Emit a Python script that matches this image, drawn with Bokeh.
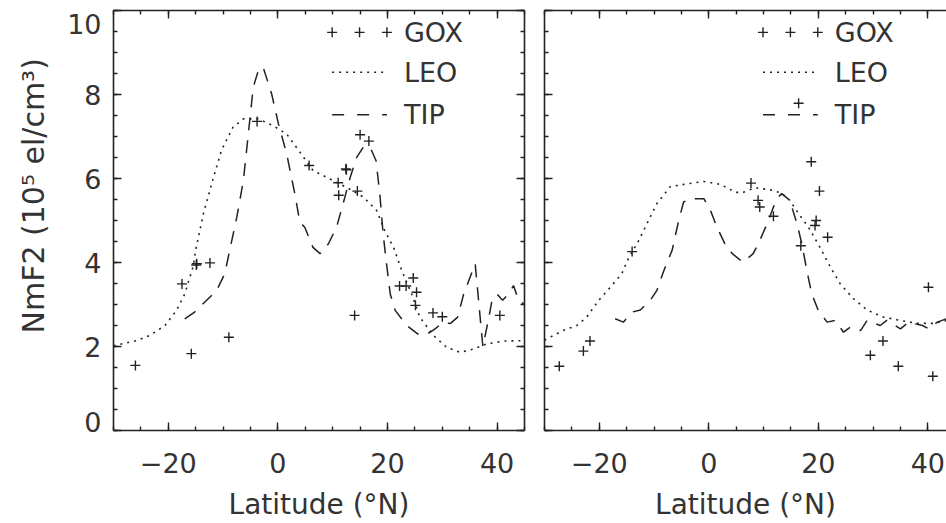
from bokeh.plotting import figure
from bokeh.layouts import row
from bokeh.models import (LinearAxis, SingleIntervalTicker, FixedTicker, Range1d,
                          CustomJSTickFormatter, Title)
from bokeh.embed import file_html
from bokeh.resources import INLINE
from bokeh.core.properties import value

# ---------------- data ----------------
# Left panel
left_gox_lat = [-26.0, -17.5, -15.8, -14.9, -14.8, -12.4, -8.95, -3.8, 5.7, 11.0, 11.1,
                12.4, 12.5, 14.0, 14.5, 15.0, 16.6, 22.2, 23.4, 24.7, 25.1, 25.3, 28.3, 30.0, 40.5]
left_gox_val = [1.55, 3.49, 1.83, 3.94, 3.97, 3.99, 2.22, 7.36, 6.31, 5.90, 5.60,
                6.23, 6.21, 2.74, 5.70, 7.04, 6.89, 3.44, 3.44, 3.63, 2.98, 3.29, 2.80, 2.71, 2.74]

left_leo_lat = [-30.0, -25.8, -23.4, -20.6, -18.5, -17.0, -15.5, -14.9, -13.6, -12.1, -10.3,
                -8.2, -6.3, -3.6, -0.9, 1.6, 4.0, 6.4, 9.5, 12.5, 15.6, 18.0, 19.5, 21.1,
                22.6, 24.4, 25.9, 28.4, 30.8, 33.2, 35.7, 38.1, 41.2, 45.0]
left_leo_val = [2.02, 2.14, 2.26, 2.50, 2.86, 3.25, 3.89, 4.36, 5.16, 5.87, 6.67,
                7.22, 7.42, 7.42, 7.26, 7.06, 6.63, 6.19, 5.99, 5.79, 5.56, 5.24, 4.76, 4.36,
                3.81, 3.25, 2.70, 2.26, 1.98, 1.86, 1.94, 2.06, 2.13, 2.14]

left_tip_lat = [-17.0, -15.2, -13.0, -11.2, -9.7, -8.8, -7.5, -6.3, -5.4, -4.5, -3.4, -2.6,
                -1.15, 0.1, 1.6, 3.1, 4.0, 4.9, 6.4, 7.7, 9.2, 10.7, 11.9, 13.2, 14.4, 15.6,
                16.8, 17.9, 18.6, 19.2, 19.9, 20.5, 21.4, 23.5, 25.5, 27.0, 28.5, 30.0, 31.5,
                32.8, 33.9, 36.0, 37.4, 38.4, 39.0, 40.0, 41.0, 42.1, 43.0, 43.9, 45.0]
left_tip_val = [2.66, 2.82, 3.10, 3.33, 3.73, 4.29, 5.08, 5.95, 7.06, 8.17, 8.65, 8.61,
                8.02, 7.30, 6.59, 5.63, 4.96, 4.84, 4.36, 4.21, 4.44, 4.84, 5.40, 6.03, 6.51, 6.75,
                6.75, 6.43, 5.63, 4.68, 3.89, 3.25, 2.86, 2.50, 2.30, 2.28, 2.40, 2.56, 2.55,
                2.70, 3.25, 3.97, 2.00, 2.62, 3.05, 3.25, 3.10, 3.25, 3.45, 3.10, 3.00]

# Right panel
right_gox_lat = [-27.3, -22.9, -21.7, -14.0, 7.7, 9.0, 9.3, 11.8, 16.4, 16.8, 18.7,
                 19.4, 19.6, 20.2, 21.7, 29.5, 31.8, 34.6, 40.1, 40.9]
right_gox_val = [1.53, 1.89, 2.13, 4.26, 5.89, 5.48, 5.32, 5.10, 7.79, 4.40, 6.40,
                 4.88, 5.00, 5.70, 4.60, 1.79, 2.13, 1.53, 3.41, 1.29]

right_leo_lat = [-30.0, -29.0, -26.6, -24.1, -22.3, -20.1, -18.0, -15.9, -14.7, -12.8, -11.3,
                 -9.5, -7.0, -4.0, -0.9, 2.1, 4.9, 6.3, 8.4, 11.2, 13.3, 14.8, 16.4, 18.2,
                 20.3, 22.2, 24.0, 26.4, 28.9, 31.9, 35.0, 38.0, 41.1, 43.4]
right_leo_val = [2.15, 2.22, 2.38, 2.50, 2.70, 3.10, 3.41, 3.73, 4.09, 4.52, 4.92,
                 5.40, 5.81, 5.87, 5.93, 5.86, 5.67, 5.67, 5.78, 5.73, 5.65, 5.48, 5.16, 4.84,
                 4.36, 3.89, 3.49, 3.14, 2.87, 2.70, 2.62, 2.55, 2.55, 2.62]

right_tip_lat = [-17.1, -15.6, -14.0, -12.5, -10.7, -9.5, -8.2, -6.7, -5.5, -4.6, -3.4, -1.8,
                 -0.9, 0.3, 1.5, 3.1, 4.3, 5.8, 6.3, 8.1, 9.3, 10.9, 11.8, 12.7, 13.3, 14.8,
                 16.1, 17.0, 17.9, 18.8, 20.0, 21.6, 23.1, 24.6, 25.8, 27.7, 28.9, 31.3, 32.5,
                 35.0, 36.5, 39.0, 40.2, 41.7, 43.4]
right_tip_val = [2.66, 2.58, 2.82, 2.87, 3.10, 3.33, 3.81, 4.29, 5.00, 5.44, 5.52, 5.52,
                 5.52, 5.24, 4.84, 4.40, 4.21, 4.05, 4.01, 4.21, 4.52, 5.00, 5.32, 5.56, 5.64, 5.48,
                 4.92, 4.44, 3.81, 3.25, 2.86, 2.58, 2.62, 2.34, 2.46, 2.38, 2.62, 2.50, 2.62,
                 2.42, 2.58, 2.50, 2.42, 2.58, 2.66]

series_names = ["GOX", "LEO", "TIP"]
x_tick_labels = {-20: "\u221220", 0: "0", 20: "20", 40: "40"}
y_tick_vals = [0, 2, 4, 6, 8, 10]
y_tick_text = ["0", "2", "4", "6", "8", "10"]
y_label = "NmF2 (10\u2075 el/cm\u00b3)"
x_label = "Latitude (\u00b0N)"

# ---------------- style ----------------
FONT = "DejaVu Sans"
INK = "#222222"
TXT = "#333333"
FS = "27px"
PX_PER_Y = 42.0                       # frame height 420 px over 10 units
Y_LABEL_NUDGE_PX = {0: 9, 10: -13}    # end labels are pulled inside the frame, IDL style

# legend layout (data units of each panel)
LEG_MARK_X = [9.9, 14.9, 19.9]
LEG_TEXT_X = 23.0
LEG_ROW_Y = [9.48, 8.53, 7.52]


def style_axis(ax, labels):
    ax.axis_line_color = INK
    ax.axis_line_width = 1.6
    ax.major_tick_in = 8
    ax.major_tick_out = 0
    ax.minor_tick_in = 4
    ax.minor_tick_out = 0
    ax.major_tick_line_color = INK
    ax.minor_tick_line_color = INK
    ax.major_tick_line_width = 1.4
    ax.minor_tick_line_width = 1.4
    ax.major_label_text_font = FONT
    ax.major_label_text_color = TXT
    ax.axis_label_text_font = FONT
    ax.axis_label_text_font_style = "normal"
    ax.axis_label_text_color = TXT
    if labels:
        ax.major_label_text_font_size = FS
    else:
        ax.formatter = CustomJSTickFormatter(code="return ''")
        ax.major_label_text_font_size = "1px"
        ax.major_label_standoff = 0


def make_panel(width, x_end, border_left, border_right, show_ylabels, show_right,
               gox_lat, gox_val, leo_lat, leo_val, tip_lat, tip_val):
    p = figure(width=width, height=523, x_range=Range1d(-30, x_end), y_range=Range1d(0, 10),
               output_backend="svg", toolbar_location=None,
               min_border_left=border_left, min_border_right=border_right,
               min_border_top=10, min_border_bottom=93)
    p.outline_line_color = None
    p.grid.visible = False
    p.background_fill_color = "white"
    p.border_fill_color = "white"

    xa = p.xaxis[0]
    xa.ticker = SingleIntervalTicker(interval=20, num_minor_ticks=4)
    style_axis(xa, True)
    xa.major_label_overrides = x_tick_labels
    xa.major_label_standoff = 22
    xa.axis_label = x_label
    xa.axis_label_text_font_size = "28px"
    xa.axis_label_standoff = 12

    ya = p.yaxis[0]
    ya.ticker = SingleIntervalTicker(interval=2, num_minor_ticks=4)
    style_axis(ya, False)
    if show_ylabels:
        # label-only axis, so the end labels can sit slightly inside like the reference
        pos = [v + Y_LABEL_NUDGE_PX.get(v, 0) / PX_PER_Y for v in y_tick_vals]
        lab = LinearAxis(ticker=FixedTicker(ticks=pos, minor_ticks=[]),
                         formatter=CustomJSTickFormatter(
                             args=dict(pos=pos, txt=y_tick_text),
                             code="const i = pos.findIndex(v => Math.abs(v - tick) < 1e-6);"
                                  "return i < 0 ? '' : txt[i];"))
        lab.axis_line_color = None
        lab.major_tick_line_color = None
        lab.minor_tick_line_color = None
        lab.major_tick_in = 0
        lab.major_tick_out = 0
        lab.major_label_text_font = FONT
        lab.major_label_text_font_size = FS
        lab.major_label_text_color = TXT
        lab.major_label_standoff = 12
        p.add_layout(lab, "left")
        p.add_layout(Title(text=y_label, align="left", offset=97, standoff=26,
                           vertical_align="middle",
                           text_font=FONT, text_font_size="30px", text_font_style="normal",
                           text_color=TXT), "left")

    top = LinearAxis(ticker=SingleIntervalTicker(interval=20, num_minor_ticks=4))
    style_axis(top, False)
    p.add_layout(top, "above")
    if show_right:
        right = LinearAxis(ticker=SingleIntervalTicker(interval=2, num_minor_ticks=4))
        style_axis(right, False)
        p.add_layout(right, "right")

    # data
    p.line(leo_lat, leo_val, line_color=INK, line_width=1.6, line_dash="2 5")
    p.line(tip_lat, tip_val, line_color=INK, line_width=1.5, line_dash="13 10")
    p.scatter(gox_lat, gox_val, marker="cross", size=10, line_color=INK, line_width=1.4)

    # legend drawn in IDL style
    p.scatter(LEG_MARK_X, [LEG_ROW_Y[0]] * 3, marker="cross", size=10, line_color=INK, line_width=1.4)
    p.line([LEG_MARK_X[0], LEG_MARK_X[-1]], [LEG_ROW_Y[1]] * 2, line_color=INK,
           line_width=1.6, line_dash="2 5")
    p.line([LEG_MARK_X[0], LEG_MARK_X[-1]], [LEG_ROW_Y[2]] * 2, line_color=INK,
           line_width=1.5, line_dash="12 13")
    p.text(x=[LEG_TEXT_X] * 3, y=LEG_ROW_Y, text=series_names,
           text_font=value(FONT), text_font_size=FS, text_color=TXT,
           text_align="left", text_baseline="middle")
    return p


p1 = make_panel(536, 45, 113, 12, True, True,
                left_gox_lat, left_gox_val, left_leo_lat, left_leo_val, left_tip_lat, left_tip_val)
p2 = make_panel(410, 43.4, 8, 0, False, False,
                right_gox_lat, right_gox_val, right_leo_lat, right_leo_val, right_tip_lat, right_tip_val)

layout = row(p1, p2)
open("out.html", "w").write(file_html(layout, INLINE))
